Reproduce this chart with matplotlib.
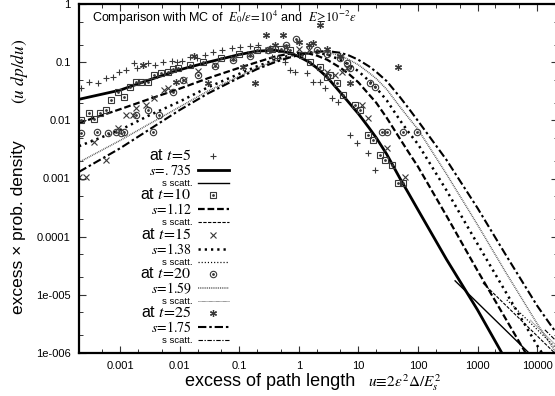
import matplotlib
matplotlib.use('Agg')
import matplotlib.pyplot as plt
from matplotlib.lines import Line2D
from matplotlib.ticker import FixedLocator, FixedFormatter, LogLocator, NullFormatter

plt.rcParams['font.family'] = ['Liberation Sans', 'DejaVu Sans']
plt.rcParams['mathtext.fontset'] = 'stix'

# ---------------- data ----------------
X_TICKS = [1e-3, 1e-2, 1e-1, 1, 10, 100, 1000, 10000]
X_TICK_LABELS = ['0.001', '0.01', '0.1', '1', '10', '100', '1000', '10000']
Y_TICKS = [1e-6, 1e-5, 1e-4, 1e-3, 1e-2, 1e-1, 1]
Y_TICK_LABELS = ['1e-006', '1e-005', '0.0001', '0.001', '0.01', '0.1', '1']

T_LABELS = ['5', '10', '15', '20', '25']
S_LABELS = ['.735', '1.12', '1.38', '1.59', '1.75']

U_GRID = [2.05e-4, 1e-3, 3e-3, 0.01, 0.03, 0.1, 0.2, 0.4, 0.7, 1, 1.5, 2, 3, 5, 7,
          10, 15, 20, 30, 50, 70, 100, 300, 1000, 3000, 1e4, 2.24e4]

S735 = [0.023, 0.033, 0.049, 0.074, 0.10, 0.135, 0.155, 0.16, 0.145, 0.125, 0.10, 0.08,
        0.055, 0.030, 0.020, 0.013, 0.0075, 0.005, 0.0026, 1.0e-3, 5.5e-4, 2.9e-4,
        4.1e-5, 5.5e-6, 7.5e-7, 8e-8, 3e-8]
S112 = [0.009, 0.0155, 0.023, 0.035, 0.053, 0.08, 0.10, 0.125, 0.14, 0.145, 0.14, 0.13,
        0.11, 0.08, 0.062, 0.045, 0.028, 0.020, 0.011, 4.8e-3, 2.8e-3, 1.6e-3,
        2.3e-4, 2.6e-5, 3.8e-6, 4.6e-7, 1.1e-7]
S138 = [0.0036, 0.0068, 0.012, 0.021, 0.037, 0.063, 0.085, 0.11, 0.13, 0.14, 0.145, 0.145,
        0.135, 0.11, 0.09, 0.07, 0.048, 0.036, 0.022, 0.010, 6.2e-3, 3.9e-3,
        6.3e-4, 7.5e-5, 1.1e-5, 1.35e-6, 3.8e-7]
S159 = [0.0019, 0.0045, 0.0085, 0.017, 0.032, 0.057, 0.08, 0.105, 0.125, 0.135, 0.145, 0.15,
        0.148, 0.13, 0.11, 0.09, 0.066, 0.052, 0.034, 0.017, 0.011, 7.0e-3,
        1.2e-3, 1.6e-4, 2.4e-5, 3.2e-6, 9e-7]
S175 = [0.0013, 0.0033, 0.0068, 0.015, 0.029, 0.054, 0.076, 0.10, 0.12, 0.132, 0.145, 0.152,
        0.155, 0.145, 0.13, 0.11, 0.085, 0.068, 0.047, 0.025, 0.016, 0.0098,
        2.1e-3, 3.1e-4, 4.8e-5, 6.5e-6, 2.0e-6]

# single-scattering tails (start / end)
SC735_U = [420, 7300];    SC735_Y = [1.74e-5, 1.0e-6]
SC112_U = [1230, 19700];  SC112_Y = [1.6e-5, 1.0e-6]
SC138_U = [3100, 22400];  SC138_Y = [8.2e-6, 1.13e-6]
SC159_U = [7600, 22400];  SC159_Y = [3.7e-6, 1.26e-6]
SC175_U = [13500, 22400]; SC175_Y = [2.5e-6, 1.5e-6]

# Monte Carlo points
MC5_U = [2.2e-4, 3.0e-4, 4.3e-4, 5.8e-4, 7.6e-4, 9.6e-4, 1.26e-3, 1.72e-3, 1.93e-3, 2.95e-3,
         3.9e-3, 5.3e-3, 7.4e-3, 9.0e-3, 0.011, 0.0149, 0.0196, 0.0267, 0.036, 0.051, 0.076,
         0.103, 0.15, 0.21, 0.33, 0.355, 0.43, 0.59, 0.71, 0.86, 1.37, 1.73, 2.27, 2.75, 3.6,
         4.55, 7.2, 9.5, 14.5, 19]
MC5_Y = [0.036, 0.0457, 0.044, 0.0535, 0.0557, 0.068, 0.073, 0.097, 0.0795, 0.097,
         0.09, 0.101, 0.105, 0.101, 0.105, 0.123, 0.118, 0.133, 0.150, 0.162, 0.175,
         0.182, 0.19, 0.198, 0.175, 0.123, 0.118, 0.101, 0.073, 0.068, 0.065, 0.0457, 0.0457,
         0.036, 0.0243, 0.0207, 0.0056, 0.0041, 0.00275, 0.0014]

MC10_U = [2.2e-4, 3.0e-4, 3.7e-4, 4.6e-4, 5.8e-4, 7.1e-4, 9.3e-4, 1.17e-3, 1.47e-3, 1.86e-3,
          2.25e-3, 2.95e-3, 3.7e-3, 4.9e-3, 6.4e-3, 7.7e-3, 9.4e-3, 0.015, 0.025, 0.05, 0.1,
          0.2, 0.35, 0.5, 0.71, 1.13, 1.54, 2.27, 2.97, 3.33, 4.37, 5.5, 8.8, 10.6, 14.5, 17.6,
          23, 27.9, 36.6, 46, 56]
MC10_Y = [0.0102, 0.0134, 0.0106, 0.0134, 0.0151, 0.0224, 0.0308, 0.0252, 0.0375, 0.0457,
          0.0457, 0.0457, 0.060, 0.065, 0.068, 0.076, 0.0795, 0.09, 0.10, 0.12, 0.14,
          0.16, 0.17, 0.17, 0.162, 0.133, 0.101, 0.083, 0.0557, 0.060, 0.044, 0.0273, 0.0184,
          0.0151, 0.0056, 0.0046, 0.00255, 0.0021, 0.0017, 8.4e-4, 8.4e-4]

MC15_U = [2.05e-4, 2.7e-4, 3.7e-4, 5.8e-4, 9.3e-4, 1.26e-3, 1.65e-3, 1.86e-3, 2.73e-3, 3.7e-3,
          5.5e-3, 6.4e-3, 0.012, 0.02, 0.04, 0.08, 0.15, 0.3, 0.6, 1.0, 1.5, 2.97, 4.05, 5.3,
          6.4, 11.5, 14.5, 30.2, 60]
MC15_Y = [0.00106, 0.00106, 0.0043, 0.0021, 0.0074, 0.0124, 0.0124, 0.0163, 0.0184, 0.0243,
          0.0333, 0.036, 0.05, 0.07, 0.09, 0.12, 0.14, 0.16, 0.18, 0.17, 0.16, 0.068, 0.060,
          0.068, 0.0795, 0.0184, 0.011, 0.0034, 0.00106]

MC20_U = [2.2e-4, 4.1e-4, 6.3e-4, 8.6e-4, 1.04e-3, 1.17e-3, 1.86e-3, 2.95e-3, 3.6e-3, 4.5e-3,
          7.7e-3, 0.0114, 0.02, 0.04, 0.08, 0.15, 0.3, 0.6, 0.9, 2, 3, 5, 6.4, 7.2, 15.7, 19,
          24.9, 30.2, 56, 96]
MC20_Y = [0.0061, 0.0063, 0.0061, 0.0063, 0.0061, 0.0063, 0.0124, 0.0151, 0.0063, 0.0124,
          0.0308, 0.049, 0.06, 0.085, 0.11, 0.13, 0.16, 0.2, 0.25, 0.16, 0.14, 0.12, 0.097,
          0.0795, 0.044, 0.0375, 0.0063, 0.0063, 0.0063, 0.0063]

MC25_U = [2.43e-3, 8.7e-3, 0.0175, 0.03, 0.116, 0.184, 0.28, 0.4, 0.54, 1.0, 1.5, 1.73, 2.27,
          3, 5, 7.2, 46]
MC25_Y = [0.0895, 0.046, 0.128, 0.044, 0.083, 0.044, 0.293, 0.2, 0.293, 0.22, 0.2, 0.21, 0.435,
          0.17, 0.13, 0.044, 0.083]

# ---------------- figure ----------------
W, H = 555, 396
fig = plt.figure(figsize=(W / 100, H / 100), dpi=100)


def fx(px):
    return px / W


def fy(py):
    return 1 - py / H


ax = fig.add_axes([fx(79), fy(353), fx(558) - fx(79), fy(4) - fy(353)])
ax.set_xscale('log')
ax.set_yscale('log')
ax.set_xlim(2.05e-4, 2.24e4)
ax.set_ylim(1e-6, 1)

MC = '#383838'
styles = [
    dict(color='black', lw=2.0, ls='-'),
    dict(color='black', lw=1.6, dashes=(3, 1.3)),
    dict(color='black', lw=1.8, dashes=(0.9, 1.6)),
    dict(color='#555555', lw=1.1, dashes=(0.6, 0.6)),
    dict(color='black', lw=1.5, dashes=(4, 1.4, 1.2, 1.4)),
]
thin_styles = [
    dict(color='black', lw=1.0, ls='-'),
    dict(color='black', lw=0.8, dashes=(3, 1.3)),
    dict(color='black', lw=0.9, dashes=(0.9, 1.6)),
    dict(color='#555555', lw=0.7, dashes=(0.6, 0.6)),
    dict(color='black', lw=0.8, dashes=(4, 1.4, 1.2, 1.4)),
]
curves = [S735, S112, S138, S159, S175]
tails = [(SC735_U, SC735_Y), (SC112_U, SC112_Y), (SC138_U, SC138_Y),
         (SC159_U, SC159_Y), (SC175_U, SC175_Y)]

for yv, st in zip(curves, styles):
    ax.plot(U_GRID, yv, **st)
for (tu, ty), st in zip(tails, thin_styles):
    ax.plot(tu, ty, **st)

mk_plus = dict(marker='+', ls='none', ms=5, mew=0.8, color=MC)
mk_sq = dict(marker='s', ls='none', ms=4.6, mew=0.8, mfc='none', mec=MC)
mk_x = dict(marker='x', ls='none', ms=4.2, mew=0.8, color=MC)
mk_o = dict(marker='o', ls='none', ms=4.6, mew=0.8, mfc='none', mec=MC)
mk_st = dict(marker=(6, 2, 0), ls='none', ms=5, mew=0.9, color=MC)
dot = dict(marker='o', ls='none', ms=1.0, color=MC)

ax.plot(MC5_U, MC5_Y, **mk_plus)
ax.plot(MC10_U, MC10_Y, **mk_sq)
ax.plot(MC10_U, MC10_Y, **dot)
ax.plot(MC15_U, MC15_Y, **mk_x)
ax.plot(MC20_U, MC20_Y, **mk_o)
ax.plot(MC20_U, MC20_Y, **dot)
ax.plot(MC25_U, MC25_Y, **mk_st)

ax.xaxis.set_major_locator(FixedLocator(X_TICKS))
ax.xaxis.set_major_formatter(FixedFormatter(X_TICK_LABELS))
ax.yaxis.set_major_locator(FixedLocator(Y_TICKS))
ax.yaxis.set_major_formatter(FixedFormatter(Y_TICK_LABELS))
ax.xaxis.set_minor_locator(LogLocator(base=10, subs=(2, 5), numticks=20))
ax.yaxis.set_minor_locator(LogLocator(base=10, subs=(2, 5), numticks=20))
ax.xaxis.set_minor_formatter(NullFormatter())
ax.yaxis.set_minor_formatter(NullFormatter())
ax.tick_params(which='both', direction='in', top=True, right=True, labelsize=8,
               color='#333333')
ax.tick_params(which='major', length=5, width=0.8, pad=6)
ax.tick_params(which='minor', length=3, width=0.7)
for sp in ax.spines.values():
    sp.set_linewidth(1.6)

# ---------------- texts ----------------
fig.text(fx(92), fy(18),
         r"Comparison with MC of  $E_0/\varepsilon\!=\!10^4$ and  $E\!\geq\!10^{-2}\varepsilon$",
         fontsize=9, va='center', ha='left')
fig.text(fx(185), fy(381), "excess of path length", fontsize=13, va='center', ha='left')
fig.text(fx(368), fy(383), r"$u\!\equiv\!2\varepsilon^2\Delta/E_s^2$", fontsize=11,
         va='center', ha='left')
fig.text(fx(19), fy(227), "excess \u00d7 prob. density", fontsize=12.5, rotation=90,
         ha='center', va='center')
fig.text(fx(19), fy(71), r"$(u\ dp/du)$", fontsize=12.5, rotation=90,
         ha='center', va='center')

# ---------------- legend (drawn manually) ----------------
markers = [mk_plus, mk_sq, mk_x, mk_o, mk_st]
with_dot = [False, True, False, True, False]
x_txt, x0, x1, x_mk = fx(192), fx(198), fx(229), fx(213)
for i in range(5):
    yb = 156 + 39.3 * i
    fig.text(x_txt, fy(yb - 0.5), "at $t\\!=\\!%s$" % T_LABELS[i], fontsize=11.5,
             ha='right', va='center')
    fig.add_artist(Line2D([x_mk], [fy(yb)], transform=fig.transFigure, **markers[i]))
    if with_dot[i]:
        fig.add_artist(Line2D([x_mk], [fy(yb)], transform=fig.transFigure, **dot))
    fig.text(x_txt, fy(yb + 14.5), "$s\\!=\\!%s$" % S_LABELS[i], fontsize=10,
             ha='right', va='center')
    fig.add_artist(Line2D([x0, x1], [fy(yb + 14)] * 2, transform=fig.transFigure,
                          **styles[i]))
    fig.text(x_txt, fy(yb + 27.5), "s scatt.", fontsize=6.8, ha='right', va='center')
    fig.add_artist(Line2D([x0, x1], [fy(yb + 27)] * 2, transform=fig.transFigure,
                          **thin_styles[i]))

fig.savefig('out.png', dpi=100)
